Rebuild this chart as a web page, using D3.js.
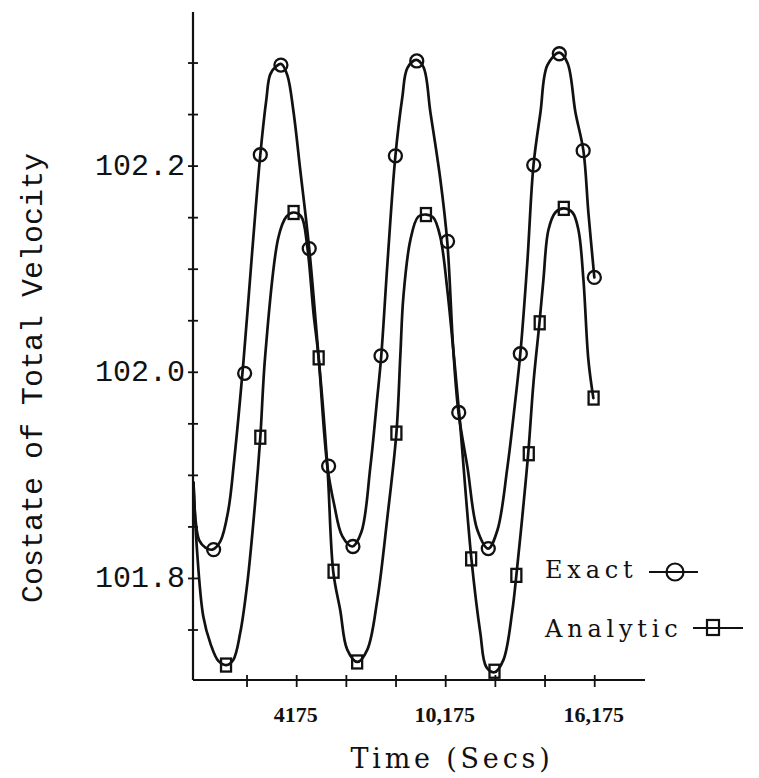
<!DOCTYPE html>
<html>
<head>
<meta charset="utf-8">
<script src="https://cdn.jsdelivr.net/npm/d3@7/dist/d3.min.js"></script>
<style>
  html, body { margin: 0; padding: 0; background: #fff; }
  svg { display: block; }
</style>
</head>
<body>
<div id="chart"></div>
<script>
// ---------------- data ----------------
// Time axis ticks (seconds) and which of them carry a label
const xTickValues = [2175, 4175, 6175, 8175, 10175, 12175, 14175, 16175];
const xTickLabels = ["", "4175", "", "", "10,175", "", "", "16,175"];
// Costate axis ticks
const yTickValues = [101.75, 101.80, 101.85, 101.90, 101.95, 102.00, 102.05, 102.10, 102.15, 102.20, 102.25, 102.30];
const yTickLabels = ["", "101.8", "", "", "", "102.0", "", "", "", "102.2", "", ""];

// Exact solution: traced curve
const exactCurveTime  = [20, 110, 250, 500, 780, 1100, 1420, 1660, 2030, 2390, 2710, 2950, 3110, 3360, 3560, 3800, 4040, 4320, 4680, 5050, 5410, 5690, 6010, 6420, 6780, 7140, 7410, 7580, 7830, 8150, 8430, 8630, 8990, 9280, 9560, 9960, 10240, 10480, 10690, 11050, 11450, 11890, 12260, 12660, 12980, 13180, 13460, 13710, 13990, 14270, 14750, 15080, 15400, 15720, 15920, 16160];
const exactCurveValue = [101.893, 101.855, 101.837, 101.830, 101.828, 101.836, 101.866, 101.915, 102.010, 102.119, 102.211, 102.264, 102.289, 102.297, 102.299, 102.288, 102.254, 102.196, 102.120, 102.017, 101.909, 101.871, 101.841, 101.831, 101.845, 101.908, 101.973, 102.016, 102.106, 102.210, 102.267, 102.295, 102.303, 102.296, 102.252, 102.187, 102.126, 102.022, 101.961, 101.908, 101.847, 101.829, 101.847, 101.908, 101.973, 102.018, 102.106, 102.201, 102.252, 102.298, 102.310, 102.300, 102.252, 102.215, 102.155, 102.092];
// Exact solution: circle markers
const exactMarkTime  = [830, 2080, 2710, 3540, 4680, 5460, 6440, 7570, 8150, 9010, 10250, 10700, 11890, 13180, 13720, 14750, 15710, 16160];
const exactMarkValue = [101.828, 101.999, 102.211, 102.298, 102.120, 101.909, 101.831, 102.016, 102.210, 102.302, 102.127, 101.961, 101.829, 102.018, 102.201, 102.309, 102.215, 102.092];

// Analytic solution: traced curve
const analyticCurveTime  = [20, 160, 415, 700, 1020, 1340, 1620, 1900, 2190, 2510, 2710, 2910, 3440, 3760, 4040, 4360, 4600, 4850, 5050, 5410, 5650, 5930, 6210, 6620, 7020, 7420, 7830, 8190, 8350, 8470, 8750, 9070, 9400, 9680, 9960, 10240, 10480, 10730, 11210, 11570, 11810, 12140, 12500, 12860, 13020, 13260, 13500, 13710, 13950, 14110, 14310, 14590, 14910, 15280, 15520, 15720, 15920, 16120];
const analyticCurveValue = [101.893, 101.828, 101.763, 101.737, 101.720, 101.716, 101.721, 101.747, 101.796, 101.876, 101.937, 102.017, 102.131, 102.151, 102.155, 102.151, 102.122, 102.058, 102.016, 101.909, 101.806, 101.769, 101.731, 101.719, 101.731, 101.779, 101.860, 101.941, 102.017, 102.073, 102.128, 102.151, 102.153, 102.150, 102.131, 102.080, 102.022, 101.957, 101.819, 101.747, 101.714, 101.709, 101.721, 101.769, 101.803, 101.860, 101.922, 101.990, 102.048, 102.090, 102.138, 102.155, 102.159, 102.155, 102.138, 102.090, 102.012, 101.975];
// Analytic solution: square markers
const analyticMarkTime  = [1330, 2710, 4050, 5060, 5660, 6610, 8190, 9380, 11200, 12140, 13020, 13520, 13960, 14930, 16130];
const analyticMarkValue = [101.716, 101.937, 102.155, 102.014, 101.807, 101.719, 101.941, 102.153, 101.819, 101.710, 101.803, 101.921, 102.048, 102.159, 101.975];

const legendNames = ["Exact", "Analytic"];
const xTitle = "Time (Secs)";
const yTitle = "Costate of Total Velocity";

// ---------------- drawing ----------------
const W = 759, H = 778;
const svg = d3.select("#chart").append("svg")
  .attr("width", W).attr("height", H)
  .style("background", "#fff");

const x = d3.scaleLinear().domain([0, 18200]).range([193, 645]);
const y = d3.scaleLinear().domain([101.7015, 102.3495]).range([680, 12]);

const ink = "#111";

// axes lines
const [x0, x1] = x.range();
const [yb, yt] = y.range();
svg.append("line").attr("x1", x0).attr("x2", x0).attr("y1", yb).attr("y2", yt)
  .attr("stroke", ink).attr("stroke-width", 2.2);
svg.append("line").attr("x1", x0).attr("x2", x1).attr("y1", yb).attr("y2", yb)
  .attr("stroke", ink).attr("stroke-width", 2.2);

// y ticks
svg.selectAll(".ytick").data(yTickValues).enter().append("line")
  .attr("x1", x0 - 5).attr("x2", x0 + 5)
  .attr("y1", d => y(d)).attr("y2", d => y(d))
  .attr("stroke", ink).attr("stroke-width", 1.8);
svg.selectAll(".ylab").data(yTickValues).enter().append("text")
  .attr("x", x0 - 8).attr("y", d => y(d)).attr("dy", "0.3em")
  .attr("text-anchor", "end")
  .style("font-family", "'Liberation Mono', 'DejaVu Sans Mono', monospace")
  .style("font-size", "30px").attr("fill", ink)
  .text((d, i) => yTickLabels[i]);

// x ticks
svg.selectAll(".xtick").data(xTickValues).enter().append("line")
  .attr("x1", d => x(d)).attr("x2", d => x(d))
  .attr("y1", yb - 5).attr("y2", yb + 7)
  .attr("stroke", ink).attr("stroke-width", 1.8);
svg.selectAll(".xlab").data(xTickValues).enter().append("text")
  .attr("x", d => x(d) - 1).attr("y", 722)
  .attr("text-anchor", "middle")
  .style("font-family", "'Liberation Serif', 'DejaVu Serif', serif")
  .style("font-weight", "bold")
  .style("font-size", "22px").attr("fill", ink)
  .text((d, i) => xTickLabels[i]);

// titles
svg.append("text")
  .attr("x", 452).attr("y", 768)
  .attr("text-anchor", "middle")
  .style("font-family", "'DejaVu Serif', serif")
  .style("font-size", "27px").style("letter-spacing", "3.8px")
  .attr("fill", ink)
  .text(xTitle);

svg.append("text")
  .attr("transform", "translate(42,153) rotate(-90)")
  .attr("text-anchor", "end")
  .style("font-family", "'Liberation Mono', 'DejaVu Sans Mono', monospace")
  .style("font-size", "30px")
  .attr("fill", ink)
  .text(yTitle);

// curves
const line = d3.line()
  .x(d => x(d[0])).y(d => y(d[1]))
  .curve(d3.curveCatmullRom.alpha(0.5));

const exactCurve = exactCurveTime.map((t, i) => [t, exactCurveValue[i]]);
const analyticCurve = analyticCurveTime.map((t, i) => [t, analyticCurveValue[i]]);

svg.append("path").datum(analyticCurve).attr("d", line)
  .attr("fill", "none").attr("stroke", ink).attr("stroke-width", 2.7)
  .attr("stroke-linejoin", "round").attr("stroke-linecap", "round");
svg.append("path").datum(exactCurve).attr("d", line)
  .attr("fill", "none").attr("stroke", ink).attr("stroke-width", 2.7)
  .attr("stroke-linejoin", "round").attr("stroke-linecap", "round");

// markers
const exactMarks = exactMarkTime.map((t, i) => [t, exactMarkValue[i]]);
const analyticMarks = analyticMarkTime.map((t, i) => [t, analyticMarkValue[i]]);

svg.selectAll(".emark").data(exactMarks).enter().append("circle")
  .attr("cx", d => x(d[0])).attr("cy", d => y(d[1])).attr("r", 6.5)
  .attr("fill", "none").attr("stroke", ink).attr("stroke-width", 2.3);

svg.selectAll(".amark").data(analyticMarks).enter().append("rect")
  .attr("x", d => x(d[0]) - 5).attr("y", d => y(d[1]) - 6.5)
  .attr("width", 10).attr("height", 13)
  .attr("fill", "none").attr("stroke", ink).attr("stroke-width", 2.3);

// legend
svg.selectAll(".leg").data(legendNames).enter().append("text")
  .attr("x", 545).attr("y", (d, i) => 578 + i * 59)
  .style("font-family", "'DejaVu Serif', serif")
  .style("font-size", "24px").style("letter-spacing", "4.8px")
  .attr("fill", ink)
  .text(d => d);

// Exact legend symbol
svg.append("line").attr("x1", 649).attr("x2", 698).attr("y1", 572).attr("y2", 572)
  .attr("stroke", ink).attr("stroke-width", 2.2);
svg.append("circle").attr("cx", 675).attr("cy", 572).attr("r", 8.5)
  .attr("fill", "none").attr("stroke", ink).attr("stroke-width", 2.2);
// Analytic legend symbol
svg.append("line").attr("x1", 693).attr("x2", 743).attr("y1", 628).attr("y2", 628)
  .attr("stroke", ink).attr("stroke-width", 2.2);
svg.append("rect").attr("x", 707).attr("y", 620).attr("width", 12).attr("height", 15)
  .attr("fill", "none").attr("stroke", ink).attr("stroke-width", 2.2);
</script>
</body>
</html>
